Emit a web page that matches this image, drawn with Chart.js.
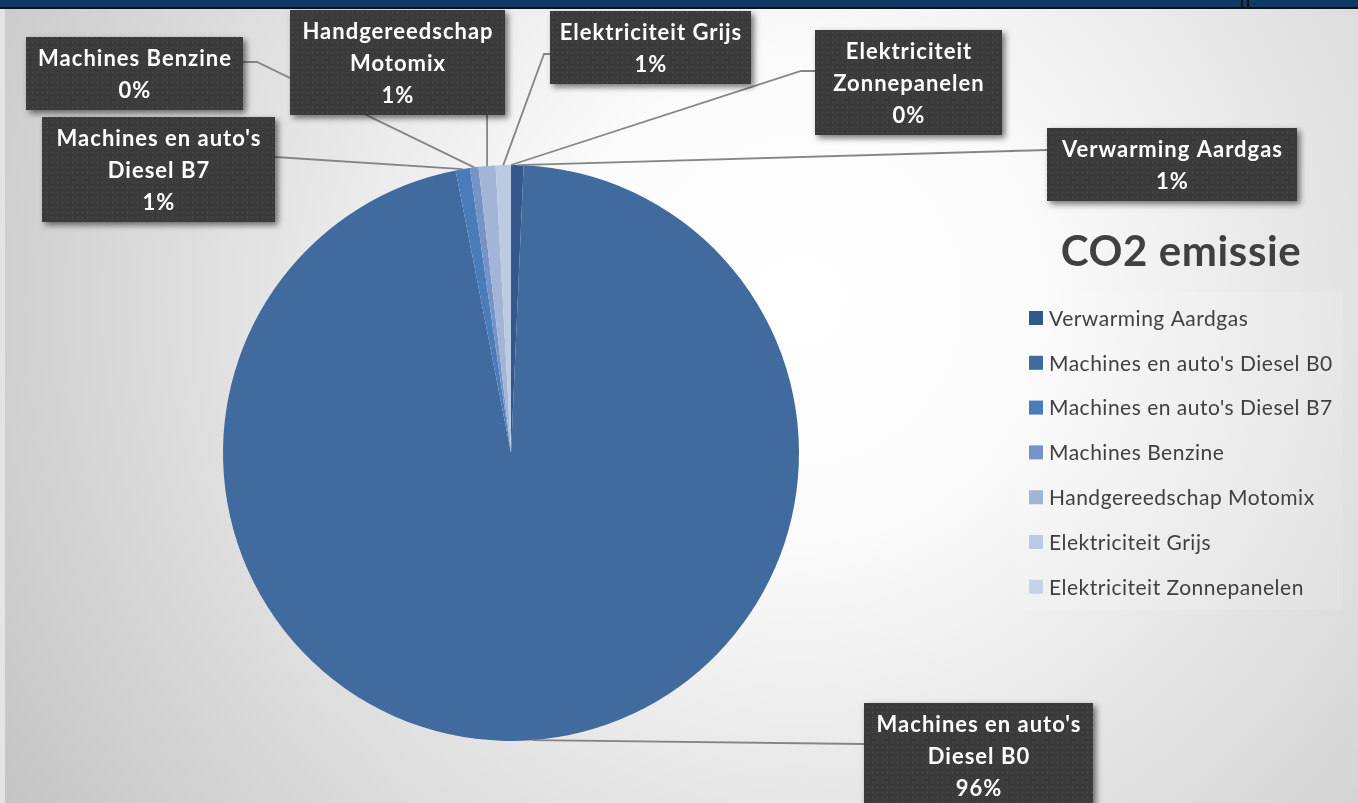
<!DOCTYPE html>
<html>
<head>
<meta charset="utf-8">
<script src="https://cdn.jsdelivr.net/npm/chart.js@4.4.0/dist/chart.umd.min.js"></script>
<style>
  body { margin: 0; background: #d0d0d0; }
  canvas { display: block; }
</style>
</head>
<body>
<canvas id="grafiek" width="1358" height="803"></canvas>
<script>
// categorieën en waarden (aandeel CO2 uitstoot, %)
const categorieen = [
    'Verwarming Aardgas',
    "Machines en auto's Diesel B0",
    "Machines en auto's Diesel B7",
    'Machines Benzine',
    'Handgereedschap Motomix',
    'Elektriciteit Grijs',
    'Elektriciteit Zonnepanelen'
];
const uitstoot = [0.7, 96.2, 0.8, 0.48, 0.95, 0.85, 0];
const kleuren = ['#34588b', '#416b9f', '#4a7cba', '#7593c7', '#a2b5d7', '#bccae2', '#c7d2e7'];
const titel = 'CO2 emissie';

// plaats van de labelvakken (x, y, breedte) en waar de lijn vertrekt
const labelVakken = [
    { x: 1047, y: 128, w: 250, lijn: [[1047, 150]] },
    { x: 864, y: 703, w: 229, lijn: [[864, 744]] },
    { x: 42, y: 117, w: 233, lijn: [[275, 157]] },
    { x: 26, y: 37, w: 217, lijn: [[243, 62], [257, 62]] },
    { x: 290, y: 10, w: 215, lijn: 'onder' },
    { x: 550, y: 11, w: 201, lijn: [[550, 54], [544, 54]] },
    { x: 815, y: 30, w: 187, lijn: [[815, 71], [801, 71]] }
];

const FONT = "Lato, 'Open Sans', sans-serif";

// patroon voor de donkere labelvakken
function maakPatroon(ctx) {
    const p = document.createElement('canvas');
    p.width = 5; p.height = 5;
    const pc = p.getContext('2d');
    pc.fillStyle = '#3b3b3b';
    pc.fillRect(0, 0, 5, 5);
    pc.fillStyle = '#525252';
    pc.fillRect(2, 2, 1, 1);
    return ctx.createPattern(p, 'repeat');
}

function wrapTekst(ctx, tekst, maxW) {
    const woorden = tekst.split(' ');
    const regels = [];
    let huidig = '';
    woorden.forEach(w => {
        const test = huidig ? huidig + ' ' + w : w;
        if (ctx.measureText(test).width > maxW && huidig) {
            regels.push(huidig);
            huidig = w;
        } else {
            huidig = test;
        }
    });
    regels.push(huidig);
    return regels;
}

const achtergrond = {
    id: 'achtergrond',
    beforeDraw(chart) {
        const ctx = chart.ctx;
        const W = chart.width, H = chart.height;
        ctx.save();
        const g = ctx.createRadialGradient(800, 300, 0, 800, 300, 950);
        g.addColorStop(0, '#ffffff');
        g.addColorStop(0.25, '#fbfbfb');
        g.addColorStop(1, '#c4c4c4');
        ctx.fillStyle = g;
        ctx.fillRect(0, 0, W, H);
        // balk bovenaan
        ctx.fillStyle = '#0d3a66';
        ctx.fillRect(0, 0, W, 7);
        ctx.fillStyle = '#111';
        ctx.fillRect(0, 7, W, 2);
        ctx.fillRect(1241, 0, 2, 9);
        ctx.fillRect(1247, 0, 2, 9);
        ctx.fillStyle = '#e4e4e4';
        ctx.fillRect(0, 9, 5, H - 9);
        ctx.restore();
    }
};

const labels = {
    id: 'labels',
    afterDatasetsDraw(chart) {
        const ctx = chart.ctx;
        const meta = chart.getDatasetMeta(0);
        const data = chart.data.datasets[0].data;
        const totaal = data.reduce((a, b) => a + b, 0);
        const patroon = maakPatroon(ctx);
        ctx.save();

        // ankerpunten op de rand van de taart
        const ankers = meta.data.map(arc => {
            const p = arc.getProps(['x', 'y', 'startAngle', 'endAngle', 'outerRadius'], true);
            const mid = (p.startAngle + p.endAngle) / 2;
            return [p.x + Math.cos(mid) * p.outerRadius, p.y + Math.sin(mid) * p.outerRadius];
        });

        ctx.font = 'bold 22px ' + FONT;
        ctx.letterSpacing = '1px';
        const vakken = labelVakken.map((v, i) => {
            const regels = wrapTekst(ctx, chart.data.labels[i], v.w - 6);
            regels.push(Math.round(data[i] / totaal * 100) + '%');
            return { ...v, regels, h: regels.length * 32 + 9 };
        });

        // lijnen
        ctx.strokeStyle = '#858585';
        ctx.lineWidth = 1.8;
        vakken.forEach((v, i) => {
            const a = ankers[i];
            const pts = v.lijn === 'onder' ? [[a[0], v.y + v.h]] : v.lijn;
            ctx.beginPath();
            ctx.moveTo(pts[0][0], pts[0][1]);
            pts.slice(1).forEach(p => ctx.lineTo(p[0], p[1]));
            ctx.lineTo(a[0], a[1]);
            ctx.stroke();
        });

        // vakken met tekst
        vakken.forEach(v => {
            ctx.save();
            ctx.shadowColor = 'rgba(0,0,0,0.55)';
            ctx.shadowBlur = 6;
            ctx.shadowOffsetX = 3;
            ctx.shadowOffsetY = 3;
            ctx.fillStyle = patroon;
            ctx.fillRect(v.x, v.y, v.w, v.h);
            ctx.restore();
            ctx.fillStyle = '#ffffff';
            ctx.textAlign = 'center';
            ctx.textBaseline = 'middle';
            ctx.font = 'bold 22px ' + FONT;
            ctx.letterSpacing = '1px';
            v.regels.forEach((r, k) => {
                ctx.fillText(r, v.x + v.w / 2 + 0.5, v.y + 22 + k * 32);
            });
        });

        // titel
        ctx.fillStyle = '#404040';
        ctx.font = 'bold 42px ' + FONT;
        ctx.letterSpacing = '0.6px';
        ctx.textAlign = 'center';
        ctx.textBaseline = 'middle';
        ctx.fillText(titel, 1181, 252);

        // legenda
        ctx.fillStyle = 'rgba(255,255,255,0.12)';
        ctx.fillRect(1017, 292, 326, 318);
        ctx.font = '21px ' + FONT;
        ctx.letterSpacing = '0.5px';
        ctx.textAlign = 'left';
        chart.data.labels.forEach((lab, i) => {
            const y = 318 + i * 44.8;
            ctx.fillStyle = kleuren[i];
            ctx.fillRect(1029, y - 7, 14, 14);
            ctx.fillStyle = '#404040';
            ctx.fillText(lab, 1049, y + 1);
        });
        ctx.restore();
    }
};

new Chart(document.getElementById('grafiek'), {
    type: 'pie',
    data: {
        labels: categorieen,
        datasets: [{
            data: uitstoot,
            backgroundColor: kleuren,
            borderWidth: 0
        }]
    },
    options: {
        responsive: false,
        animation: false,
        layout: { padding: { left: 223, right: 559, top: 165, bottom: 62 } },
        plugins: {
            legend: { display: false },
            tooltip: { enabled: false }
        }
    },
    plugins: [achtergrond, labels]
});
</script>
</body>
</html>
